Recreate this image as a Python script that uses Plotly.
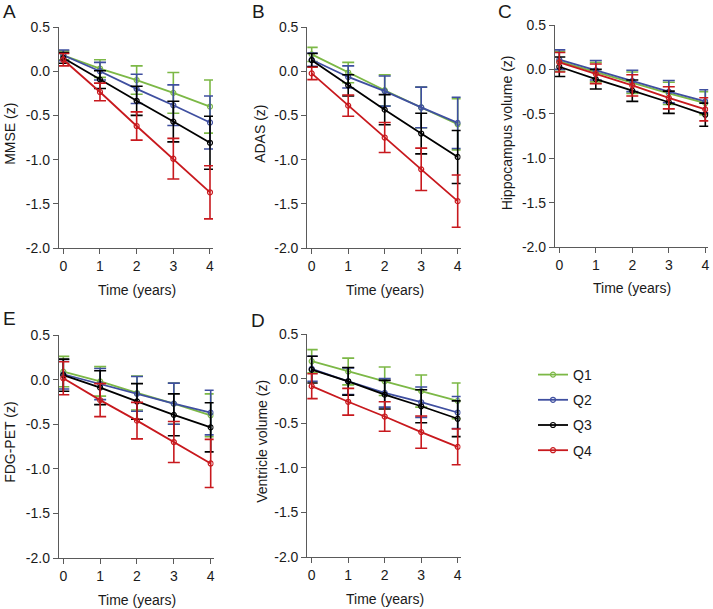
import plotly.graph_objects as go

# ---------------- data ----------------
time_years = [0, 1, 2, 3, 4]
quartiles = ["Q1", "Q2", "Q3", "Q4"]
y_tick_vals = [0.5, 0.0, -0.5, -1.0, -1.5, -2.0]
y_tick_text = ["0.5", "0.0", "-0.5", "-1.0", "-1.5", "-2.0"]
x_tick_vals = [0, 1, 2, 3, 4]
x_tick_text = ["0", "1", "2", "3", "4"]

mmse_mean = {
    "Q1": [0.18, 0.03, -0.10, -0.245, -0.40],
    "Q2": [0.18, 0.00, -0.20, -0.385, -0.58],
    "Q3": [0.15, -0.095, -0.335, -0.57, -0.81],
    "Q4": [0.13, -0.235, -0.62, -0.99, -1.37],
}
mmse_err = {
    "Q1": [0.05, 0.10, 0.16, 0.23, 0.30],
    "Q2": [0.06, 0.10, 0.165, 0.23, 0.30],
    "Q3": [0.06, 0.10, 0.165, 0.23, 0.30],
    "Q4": [0.07, 0.10, 0.16, 0.23, 0.30],
}
adas_mean = {
    "Q1": [0.19, -0.015, -0.215, -0.41, -0.60],
    "Q2": [0.13, -0.065, -0.225, -0.41, -0.585],
    "Q3": [0.125, -0.16, -0.435, -0.705, -0.97],
    "Q4": [-0.025, -0.39, -0.75, -1.11, -1.47],
}
adas_err = {
    "Q1": [0.08, 0.115, 0.175, 0.23, 0.29],
    "Q2": [0.075, 0.125, 0.17, 0.23, 0.29],
    "Q3": [0.075, 0.12, 0.17, 0.23, 0.30],
    "Q4": [0.07, 0.12, 0.17, 0.24, 0.295],
}
hippo_mean = {
    "Q1": [0.09, -0.03, -0.15, -0.27, -0.38],
    "Q2": [0.11, -0.01, -0.13, -0.25, -0.36],
    "Q3": [0.03, -0.11, -0.24, -0.37, -0.51],
    "Q4": [0.08, -0.05, -0.18, -0.32, -0.45],
}
hippo_err = {
    "Q1": [0.11, 0.11, 0.12, 0.125, 0.13],
    "Q2": [0.11, 0.11, 0.12, 0.125, 0.13],
    "Q3": [0.11, 0.11, 0.12, 0.125, 0.13],
    "Q4": [0.11, 0.11, 0.12, 0.125, 0.13],
}
fdg_mean = {
    "Q1": [0.09, -0.02, -0.15, -0.27, -0.40],
    "Q2": [0.06, -0.05, -0.16, -0.27, -0.37],
    "Q3": [0.05, -0.09, -0.245, -0.395, -0.535],
    "Q4": [0.015, -0.23, -0.46, -0.70, -0.94],
}
fdg_err = {
    "Q1": [0.17, 0.165, 0.19, 0.23, 0.24],
    "Q2": [0.165, 0.175, 0.195, 0.23, 0.25],
    "Q3": [0.18, 0.19, 0.20, 0.235, 0.275],
    "Q4": [0.185, 0.185, 0.205, 0.23, 0.27],
}
vent_mean = {
    "Q1": [0.195, 0.08, -0.03, -0.14, -0.25],
    "Q2": [0.11, -0.03, -0.16, -0.265, -0.38],
    "Q3": [0.10, -0.03, -0.18, -0.31, -0.45],
    "Q4": [-0.085, -0.26, -0.425, -0.60, -0.765],
}
vent_err = {
    "Q1": [0.13, 0.15, 0.16, 0.18, 0.20],
    "Q2": [0.14, 0.15, 0.16, 0.17, 0.18],
    "Q3": [0.15, 0.155, 0.16, 0.185, 0.20],
    "Q4": [0.14, 0.15, 0.165, 0.18, 0.20],
}

panel_letters = ["A", "B", "C", "E", "D"]
panel_ytitles = ["MMSE (z)", "ADAS (z)", "Hippocampus volume (z)", "FDG-PET (z)", "Ventricle volume (z)"]
panel_means = [mmse_mean, adas_mean, hippo_mean, fdg_mean, vent_mean]
panel_errs = [mmse_err, adas_err, hippo_err, fdg_err, vent_err]
x_title = "Time (years)"

# ---------------- styling / layout ----------------
W, H = 713, 609
colors = {"Q1": "#7cb846", "Q2": "#3f4fa0", "Q3": "#000000", "Q4": "#c8191e"}
FONT = "Arial, 'Liberation Sans', sans-serif"
AXIS_COLOR = "#5a5a5a"
TEXT_COLOR = "#1a1a1a"
X_RANGE = [-0.12, 4.08]

# pixel geometry of each panel: (x of tick 0, x of tick 4, y top (0.5), y bottom (-2.0))
geom = [
    (63.3, 210.0, 27, 248),
    (311.7, 457.7, 27, 248),
    (559.3, 705.3, 25, 247),
    (63.3, 210.7, 335, 558),
    (311.7, 457.7, 334, 557),
]
# label positions (px): letter (x, y), ytitle x, xtitle y
letter_pos = [(9, 12), (258, 12), (505, 12), (9, 318), (258, 320)]
ytitle_x = [10, 260, 507, 10, 262]
xtitle_y = [290, 290, 288, 600, 599]

fig = go.Figure()
annotations = []
layout_axes = {}

for i in range(5):
    t0, t4, ytop, ybot = geom[i]
    ppu = (t4 - t0) / 4.0
    xl = t0 + X_RANGE[0] * ppu
    xr = t0 + X_RANGE[1] * ppu
    xd = [xl / W, xr / W]
    yd = [1 - ybot / H, 1 - ytop / H]
    idx = "" if i == 0 else str(i + 1)
    xa, ya = "x" + idx, "y" + idx

    for q in quartiles:
        fig.add_trace(go.Scatter(
            x=time_years, y=panel_means[i][q],
            error_y=dict(type="data", array=panel_errs[i][q], visible=True,
                         color=colors[q], thickness=1.6, width=6),
            mode="lines+markers",
            line=dict(color=colors[q], width=1.8),
            marker=dict(symbol="circle-open", size=5, color=colors[q], line=dict(width=1.2)),
            name=q, legendgroup=q, showlegend=(i == 0),
            xaxis=xa, yaxis=ya,
        ))

    layout_axes["xaxis" + idx] = dict(
        domain=xd, range=X_RANGE, anchor=ya, tickmode="array",
        tickvals=x_tick_vals, ticktext=x_tick_text,
        showline=True, linecolor=AXIS_COLOR, linewidth=1.2,
        ticks="outside", ticklen=5, tickcolor=AXIS_COLOR, tickwidth=1.2,
        showgrid=False, zeroline=False, automargin=False,
        tickfont=dict(family=FONT, size=14, color=TEXT_COLOR),
    )
    layout_axes["yaxis" + idx] = dict(
        domain=yd, range=[-2.0, 0.5], anchor=xa, tickmode="array",
        tickvals=y_tick_vals, ticktext=y_tick_text,
        showline=True, linecolor=AXIS_COLOR, linewidth=1.2,
        ticks="outside", ticklen=5, tickcolor=AXIS_COLOR, tickwidth=1.2,
        showgrid=False, zeroline=False, automargin=False,
        tickfont=dict(family=FONT, size=14, color=TEXT_COLOR),
    )

    # panel letter
    annotations.append(dict(
        text=panel_letters[i], x=letter_pos[i][0] / W, y=1 - letter_pos[i][1] / H,
        xref="paper", yref="paper", showarrow=False, xanchor="center", yanchor="middle",
        font=dict(family=FONT, size=19, color=TEXT_COLOR),
    ))
    # y title
    annotations.append(dict(
        text=panel_ytitles[i], x=ytitle_x[i] / W, y=(yd[0] + yd[1]) / 2 + 0.006,
        xref="paper", yref="paper", showarrow=False, textangle=-90,
        xanchor="center", yanchor="middle",
        font=dict(family=FONT, size=14, color=TEXT_COLOR),
    ))
    # x title
    annotations.append(dict(
        text=x_title, x=((t0 + t4) / 2) / W, y=1 - xtitle_y[i] / H,
        xref="paper", yref="paper", showarrow=False, xanchor="center", yanchor="middle",
        font=dict(family=FONT, size=14, color=TEXT_COLOR),
    ))

fig.update_layout(
    width=W, height=H,
    margin=dict(l=0, r=0, t=0, b=0),
    paper_bgcolor="white", plot_bgcolor="white",
    font=dict(family=FONT, size=14, color=TEXT_COLOR),
    annotations=annotations,
    showlegend=True,
    legend=dict(
        x=533 / W, y=1 - 359 / H, xanchor="left", yanchor="top",
        font=dict(family=FONT, size=14, color=TEXT_COLOR),
        bgcolor="rgba(0,0,0,0)", tracegroupgap=4,
    ),
    **layout_axes,
)

fig.write_html(
    "out.html",
    config={"displayModeBar": False},
    post_script="document.body.style.margin='0';document.body.style.overflow='hidden';",
)
